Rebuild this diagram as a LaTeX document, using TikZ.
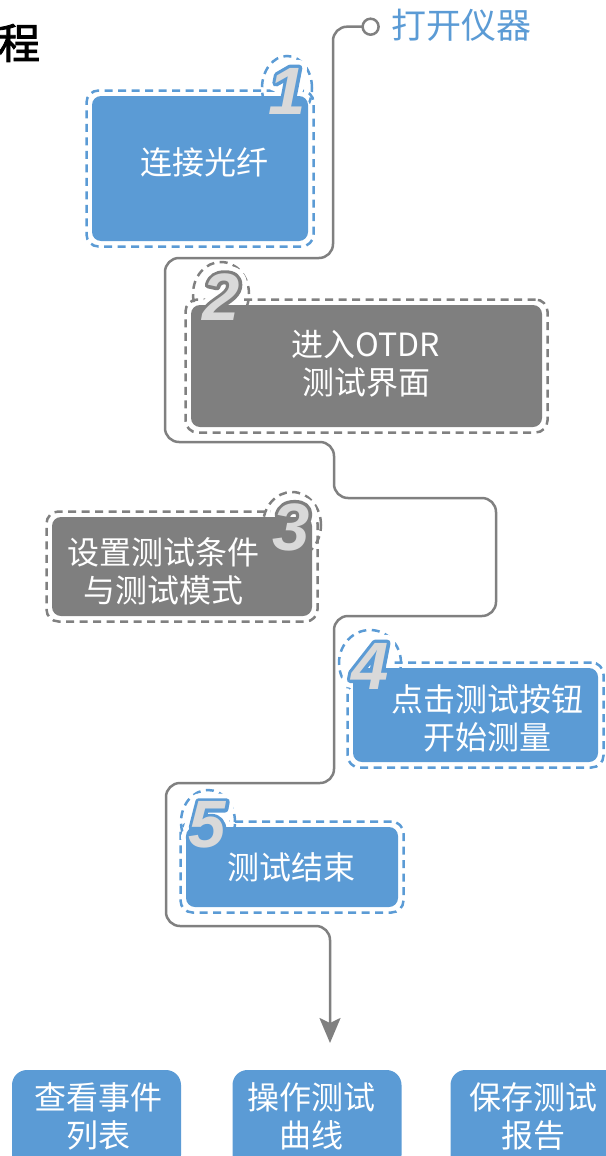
\documentclass[tikz,border=0pt]{standalone}
\usepackage{fontspec}
\newfontfamily\cjk{Noto Sans CJK SC}
\newfontfamily\cjkb[FakeBold=2]{Noto Sans CJK SC}
\newfontfamily\digitfont{Liberation Sans}
\newfontfamily\digithalo[FakeBold=24]{Liberation Sans}
\newfontfamily\digitout[FakeBold=10]{Liberation Sans}
\usetikzlibrary{arrows.meta}
\definecolor{cblue}{HTML}{5B9BD5}
\definecolor{cgray}{HTML}{7F7F7F}
\definecolor{cdig}{HTML}{D9D9D9}
\definecolor{cline}{HTML}{808080}
\begin{document}
\begin{tikzpicture}[x=1pt,y=-1pt,
  every node/.style={inner sep=0pt, outer sep=0pt},
  fillbox/.style={rounded corners=9pt},
  dashbox/.style={rounded corners=12pt, dash pattern=on 8pt off 5.5pt, line width=2.5pt},
  dashring/.style={dash pattern=on 8pt off 5.5pt, line width=2.5pt},
  dig/.style={font=\digitfont\bfseries\itshape\fontsize{67}{67}\selectfont, text=cdig},
  dighalo/.style={font=\digithalo\bfseries\itshape\fontsize{67}{67}\selectfont, text=white, line join=round},
  digout/.style={font=\digitout\bfseries\itshape\fontsize{67}{67}\selectfont, text=#1, line join=round},
  lbl/.style={text=white, align=center, font=\cjk\fontsize{32}{38}\selectfont},
  flow/.style={draw=cline, line width=2.5pt, rounded corners=14pt},
  endbox/.style={fill=cblue, rounded corners=15pt, minimum width=169pt, minimum height=100pt},
]
\useasboundingbox (0,0) rectangle (605,1156);

% title and start
\node[font=\cjkb\fontsize{42}{42}\selectfont, anchor=west] (title) at (-2,43) {程};
\node[font=\cjk\fontsize{35}{35}\selectfont, text=cblue, anchor=west] (start) at (391,25) {打开仪器};
\coordinate (arrowend) at (330,1043);

% flow line
\draw[flow, -{Stealth[length=25pt, width=21pt, inset=5pt]}] (362,26.7) -- (333,26.7) -- (333,258) -- (165,258) -- (165,442) -- (334,442) -- (334,498) -- (496,498) -- (496,616) -- (334,616) -- (334,783) -- (166,783) -- (166,926) -- (330,926) -- (arrowend);
\node[circle, draw=cline, line width=2.5pt, fill=white, minimum size=16pt] (c0) at (370.6,26.7) {};

% dashed outlines
\node[dashbox, draw=cblue, minimum width=227pt, minimum height=156pt] (d1) at (200,168.5) {};
\node[dashbox, draw=cline, minimum width=362pt, minimum height=133pt] (d2) at (366.5,366) {};
\node[dashbox, draw=cline, minimum width=271pt, minimum height=110pt] (d3) at (182,566.5) {};
\node[dashbox, draw=cblue, minimum width=256pt, minimum height=105pt] (d4) at (475.5,715) {};
\node[dashbox, draw=cblue, minimum width=223pt, minimum height=91pt] (d5) at (292,867) {};
\draw[dashring, draw=cblue] (287,88) ellipse [x radius=25pt, y radius=32pt];
\draw[dashring, draw=cline] (221,294) ellipse [x radius=28pt, y radius=32pt];
\draw[dashring, draw=cline] (292,525) ellipse [x radius=29pt, y radius=33pt];
\draw[dashring, draw=cblue] (370,663) ellipse [x radius=31pt, y radius=33pt];
\draw[dashring, draw=cblue] (208,822) ellipse [x radius=27pt, y radius=32pt];

% white halos of digits
\node[dighalo] (h1) at (287,91) {1};
\node[dighalo] (h2) at (221,297) {2};
\node[dighalo] (h3) at (291,527) {3};
\node[dighalo] (h4) at (370,666) {4};
\node[dighalo] (h5) at (207,825) {5};

% box fills
\node[fillbox, fill=cblue, minimum width=216pt, minimum height=145pt] (b1) at (200,168.5) {};
\node[fillbox, fill=cgray, minimum width=351pt, minimum height=122pt] (b2) at (366.5,366) {};
\node[fillbox, fill=cgray, minimum width=260pt, minimum height=99pt] (b3) at (182,566.5) {};
\node[fillbox, fill=cblue, minimum width=245pt, minimum height=94pt] (b4) at (475.5,715) {};
\node[fillbox, fill=cblue, minimum width=212pt, minimum height=80pt] (b5) at (292,867) {};

% digit outlines and digits
\node[digout=cblue] (o1) at (287,91) {1};
\node[digout=cgray] (o2) at (221,297) {2};
\node[digout=cgray] (o3) at (291,527) {3};
\node[digout=cblue] (o4) at (370,666) {4};
\node[digout=cblue] (o5) at (207,825) {5};
\node[dig] (n1) at (287,91) {1};
\node[dig] (n2) at (221,297) {2};
\node[dig] (n3) at (291,527) {3};
\node[dig] (n4) at (370,666) {4};
\node[dig] (n5) at (207,825) {5};

% texts
\node[lbl] (t1) at (204,162) {连接光纤};
\node[lbl] (t2) at (366,364) {进入OTDR\\测试界面};
\node[lbl] (t3) at (163,571) {设置测试条件\\与测试模式};
\node[lbl] (t4) at (487,718) {点击测试按钮\\开始测量};
\node[lbl] (t5) at (291,867) {测试结束};

% end boxes
\node[endbox] (e1) at (96.5,1120) {};
\node[endbox] (e2) at (317,1120) {};
\node[endbox] (e3) at (535,1120) {};
\node[lbl] (et1) at (98.5,1116) {查看事件\\列表};
\node[lbl] (et2) at (311,1116) {操作测试\\曲线};
\node[lbl] (et3) at (533,1116) {保存测试\\报告};
\end{tikzpicture}
\end{document}
